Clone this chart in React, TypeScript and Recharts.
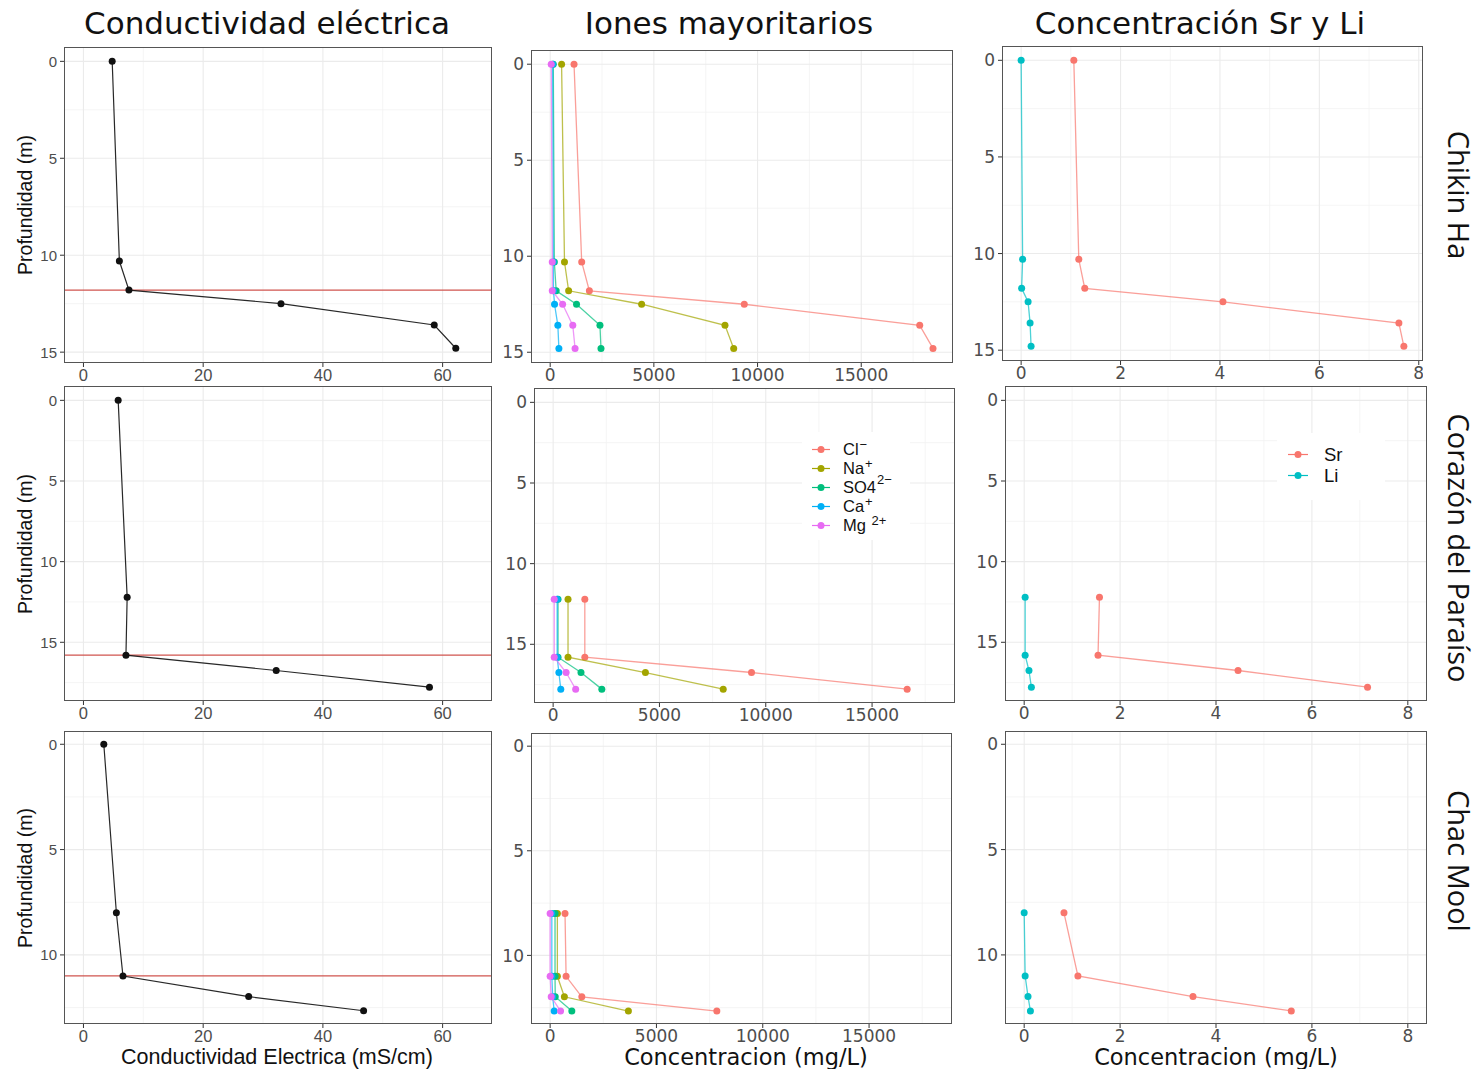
// Perfiles de profundidad: conductividad, iones mayoritarios y Sr/Li en tres cenotes
import React from 'react';
import { ScatterChart, Scatter, XAxis, YAxis, CartesianGrid, ReferenceLine } from 'recharts';

// ---------- Chikin Ha ----------
const chikinDepth = [0, 10.3, 11.8, 12.5, 13.6, 14.8];
const chikinCE = [4.8, 6.0, 7.6, 33.0, 58.6, 62.2];
const chikinCl = [1150, 1520, 1890, 9360, 17820, 18460];
const chikinNa = [550, 690, 890, 4410, 8430, 8850];
const chikinSO4 = [150, 200, 290, 1270, 2400, 2450];
const chikinCa = [120, 150, 160, 210, 370, 420];
const chikinMg = [50, 100, 100, 600, 1090, 1200];
const chikinSr = [1.06, 1.16, 1.28, 4.06, 7.6, 7.7];
const chikinLi = [0, 0.03, 0.01, 0.14, 0.18, 0.2];
const chikinInterface = 11.8;

// ---------- Corazón del Paraíso ----------
const corazonCEDepth = [0, 12.2, 15.8, 16.75, 17.78];
const corazonCE = [5.8, 7.3, 7.1, 32.2, 57.8];
const corazonDepth = [12.2, 15.8, 16.75, 17.78];
const corazonCl = [1490, 1490, 9330, 16650];
const corazonNa = [700, 700, 4340, 8000];
const corazonSO4 = [230, 230, 1310, 2290];
const corazonCa = [190, 190, 270, 360];
const corazonMg = [50, 50, 610, 1060];
const corazonSr = [1.57, 1.54, 4.46, 7.16];
const corazonLi = [0.02, 0.02, 0.1, 0.15];
const corazonInterface = 15.8;

// ---------- Chac Mool ----------
const chacCEDepth = [0, 8.0, 11.0, 11.98, 12.65];
const chacCE = [3.4, 5.5, 6.6, 27.6, 46.8];
const chacDepth = [8.0, 11.0, 11.98, 12.66];
const chacCl = [700, 750, 1490, 7840];
const chacNa = [340, 340, 670, 3680];
const chacSO4 = [230, 230, 240, 1020];
const chacCa = [80, 80, 120, 190];
const chacMg = [0, 0, 50, 490];
const chacSr = [0.83, 1.12, 3.52, 5.57];
const chacLi = [0, 0.02, 0.08, 0.13];
const chacInterface = 11.0;

// ---------- labels ----------
const sites = ['Chikin Ha', 'Corazón del Paraíso', 'Chac Mool'];
const columnTitles = ['Conductividad eléctrica', 'Iones mayoritarios', 'Concentración Sr y Li'];
const ionNames = ['Cl', 'Na', 'SO4', 'Ca', 'Mg\u00A0'];
const ionCharges = ['−', '+', '2−', '+', '2+'];
const ionColors = ['#F8766D', '#A3A500', '#00BF7D', '#00B0F6', '#E76BF3'];
const traceNames = ['Sr', 'Li'];
const traceColors = ['#F8766D', '#00BFC4'];

const ceTicks = [0, 20, 40, 60];
const ceMinor = [10, 30, 50];
const ionTicks = [0, 5000, 10000, 15000];
const ionMinor = [2500, 7500, 12500, 17500];
const traceTicks = [0, 2, 4, 6, 8];
const traceMinor = [1, 3, 5, 7];
const depthTicks = [[0, 5, 10, 15], [0, 5, 10, 15], [0, 5, 10]];
const depthMinor = [[2.5, 7.5, 12.5], [2.5, 7.5, 12.5, 17.5], [2.5, 7.5, 12.5]];

// ---------- layout ----------
const YW = 50;
const XH = 30;
const boxes = [
  [[64, 47, 492, 363], [531, 50, 953, 363], [1002, 46, 1423, 361]],
  [[64, 386, 492, 701], [534, 388, 955, 703], [1005, 386, 1427, 701]],
  [[64, 731, 492, 1024], [531, 733, 952, 1024], [1005, 731, 1427, 1024]],
];
const yDomains = [[-0.74, 15.56], [-0.89, 18.64], [-0.63, 13.28]];
const xDomains = [
  [[-3.25, 68.25], [-925, 19425], [-0.385, 8.085]],
  [[-3.25, 68.25], [-900, 18900], [-0.4, 8.4]],
  [[-3.25, 68.25], [-900, 18900], [-0.4, 8.4]],
];

type Series = { name: string; color: string; depth: number[]; values: number[] };

const rowsData = [
  {
    ce: { depth: chikinDepth, values: chikinCE },
    ions: [chikinCl, chikinNa, chikinSO4, chikinCa, chikinMg].map((v) => ({ depth: chikinDepth, values: v })),
    trace: [chikinSr, chikinLi].map((v) => ({ depth: chikinDepth, values: v })),
    iface: chikinInterface,
  },
  {
    ce: { depth: corazonCEDepth, values: corazonCE },
    ions: [corazonCl, corazonNa, corazonSO4, corazonCa, corazonMg].map((v) => ({ depth: corazonDepth, values: v })),
    trace: [corazonSr, corazonLi].map((v) => ({ depth: corazonDepth, values: v })),
    iface: corazonInterface,
  },
  {
    ce: { depth: chacCEDepth, values: chacCE },
    ions: [chacCl, chacNa, chacSO4, chacCa, chacMg].map((v) => ({ depth: chacDepth, values: v })),
    trace: [chacSr, chacLi].map((v) => ({ depth: chacDepth, values: v })),
    iface: chacInterface,
  },
];

const makeYTick = (font: string, size: number) => (props: any) => {
  const { x, y, payload } = props;
  return (
    <g>
      <line x1={x + 2} x2={x + 6} y1={y} y2={y} stroke="#333" strokeWidth={1} />
      <text x={x - 1} y={y} dy="0.36em" textAnchor="end" fontFamily={font} fontSize={size} fill="#4D4D4D">
        {payload.value}
      </text>
    </g>
  );
};

const makeXTick = (font: string, size: number) => (props: any) => {
  const { x, y, payload } = props;
  return (
    <g>
      <line x1={x} x2={x} y1={y - 6} y2={y - 2} stroke="#333" strokeWidth={1} />
      <text x={x} y={y} dy="0.7em" textAnchor="middle" fontFamily={font} fontSize={size} fill="#4D4D4D">
        {payload.value}
      </text>
    </g>
  );
};

interface PanelProps {
  box: number[];
  xDomain: number[];
  yDomain: number[];
  xTicks: number[];
  xMinor: number[];
  yTicks: number[];
  yMinor: number[];
  series: Series[];
  iface?: number;
  font: string;
  xSize: number;
  ySize: number;
  lineWidth: number;
  lineOpacity: number;
}

function Panel(p: PanelProps) {
  const [l, t, r, b] = p.box;
  const pw = r - l;
  const ph = b - t;
  const YTick = makeYTick(p.font, p.ySize);
  const XTick = makeXTick(p.font, p.xSize);
  return (
    <>
      <div style={{ position: 'absolute', left: l - YW, top: t }}>
        <ScatterChart width={pw + YW} height={ph + XH} margin={{ top: 0, right: 0, bottom: 0, left: 0 }}>
          <CartesianGrid horizontalValues={p.yMinor} verticalValues={p.xMinor} stroke="#F2F2F2" strokeWidth={0.8} />
          <CartesianGrid horizontalValues={p.yTicks} verticalValues={p.xTicks} stroke="#EBEBEB" strokeWidth={1.1} />
          <XAxis
            type="number"
            dataKey="x"
            domain={p.xDomain}
            allowDataOverflow
            ticks={p.xTicks}
            interval={0}
            height={XH}
            axisLine={false}
            tickLine={false}
            tickSize={4}
            tickMargin={2}
            tick={XTick}
          />
          <YAxis
            type="number"
            dataKey="y"
            domain={p.yDomain}
            allowDataOverflow
            reversed
            ticks={p.yTicks}
            interval={0}
            width={YW}
            axisLine={false}
            tickLine={false}
            tickSize={4}
            tickMargin={2}
            tick={YTick}
          />
          {p.iface !== undefined && <ReferenceLine y={p.iface} stroke="#D0554F" strokeWidth={1.2} />}
          {p.series.map((s) => (
            <Scatter
              key={s.name}
              name={s.name}
              data={s.depth.map((d, i) => ({ x: s.values[i], y: d }))}
              isAnimationActive={false}
              line={{ stroke: s.color, strokeWidth: p.lineWidth, strokeOpacity: p.lineOpacity }}
              shape={(sp: any) => <circle cx={sp.cx} cy={sp.cy} r={3.5} fill={s.color} />}
            />
          ))}
        </ScatterChart>
      </div>
      <div
        style={{
          position: 'absolute',
          left: l,
          top: t,
          width: pw,
          height: ph,
          border: '1.3px solid #555',
          boxSizing: 'border-box',
          pointerEvents: 'none',
        }}
      />
    </>
  );
}

const rowCenters = [205, 544, 878];

export default function App() {
  return (
    <div style={{ position: 'absolute', left: 0, top: 0, width: 1481, height: 1069, background: '#fff', overflow: 'hidden' }}>
      {/* column titles */}
      {columnTitles.map((title, i) => (
        <div
          key={title}
          style={{
            position: 'absolute',
            left: [267, 729, 1200][i] - 250,
            top: 5,
            width: 500,
            textAlign: 'center',
            fontFamily: 'DejaVu Sans',
            fontSize: 31,
            lineHeight: '36px',
            color: '#111',
          }}
        >
          {title}
        </div>
      ))}

      {/* strip labels */}
      {sites.map((s, i) => (
        <div
          key={s}
          style={{
            position: 'absolute',
            left: 1459 - 200,
            top: [195, 548, 861][i] - 20,
            width: 400,
            height: 40,
            lineHeight: '40px',
            textAlign: 'center',
            fontFamily: 'Open Sans',
            fontSize: 29,
            color: '#111',
            transform: 'rotate(90deg)',
          }}
        >
          {s}
        </div>
      ))}

      {/* y axis titles */}
      {rowCenters.map((c, i) => (
        <div
          key={i}
          style={{
            position: 'absolute',
            left: 25 - 120,
            top: c - 12,
            width: 240,
            height: 24,
            lineHeight: '24px',
            textAlign: 'center',
            fontFamily: 'Liberation Sans',
            fontSize: 19.5,
            color: '#111',
            transform: 'rotate(-90deg)',
          }}
        >
          Profundidad (m)
        </div>
      ))}

      {rowsData.map((row, ri) => (
        <React.Fragment key={ri}>
          <Panel
            box={boxes[ri][0]}
            xDomain={xDomains[ri][0]}
            yDomain={yDomains[ri]}
            xTicks={ceTicks}
            xMinor={ceMinor}
            yTicks={depthTicks[ri]}
            yMinor={depthMinor[ri]}
            series={[{ name: 'CE', color: '#111', depth: row.ce.depth, values: row.ce.values }]}
            iface={row.iface}
            font="Liberation Sans"
            xSize={16.5}
            ySize={15}
            lineWidth={1.2}
            lineOpacity={0.9}
          />
          <Panel
            box={boxes[ri][1]}
            xDomain={xDomains[ri][1]}
            yDomain={yDomains[ri]}
            xTicks={ionTicks}
            xMinor={ionMinor}
            yTicks={depthTicks[ri]}
            yMinor={depthMinor[ri]}
            series={row.ions.map((s, i) => ({ name: ionNames[i], color: ionColors[i], ...s }))}
            font="DejaVu Sans"
            xSize={17}
            ySize={17}
            lineWidth={1.3}
            lineOpacity={0.7}
          />
          <Panel
            box={boxes[ri][2]}
            xDomain={xDomains[ri][2]}
            yDomain={yDomains[ri]}
            xTicks={traceTicks}
            xMinor={traceMinor}
            yTicks={depthTicks[ri]}
            yMinor={depthMinor[ri]}
            series={row.trace.map((s, i) => ({ name: traceNames[i], color: traceColors[i], ...s }))}
            font="DejaVu Sans"
            xSize={17}
            ySize={17}
            lineWidth={1.3}
            lineOpacity={0.7}
          />
        </React.Fragment>
      ))}

      {/* ions legend */}
      <div style={{ position: 'absolute', left: 802, top: 432, width: 108, height: 108, background: '#fff' }}>
        {ionNames.map((n, i) => (
          <div
            key={n}
            style={{ position: 'absolute', left: 0, top: 8 + i * 19, height: 19, display: 'flex', alignItems: 'center', whiteSpace: 'nowrap' }}
          >
            <svg width={41} height={19}>
              <line x1={10} x2={28} y1={9.5} y2={9.5} stroke={ionColors[i]} strokeWidth={1.2} />
              <circle cx={19} cy={9.5} r={3.5} fill={ionColors[i]} />
            </svg>
            <span style={{ fontFamily: 'Liberation Sans', fontSize: 16.5, color: '#111', lineHeight: '19px' }}>
              {n}
              <span style={{ position: 'relative', top: i === 2 ? -9 : -6, fontSize: 13, marginLeft: 1 }}>{ionCharges[i]}</span>
            </span>
          </div>
        ))}
      </div>

      {/* Sr / Li legend */}
      <div style={{ position: 'absolute', left: 1277, top: 433, width: 108, height: 67, background: '#fff' }}>
        {traceNames.map((n, i) => (
          <div
            key={n}
            style={{ position: 'absolute', left: 0, top: 11 + i * 21, height: 21, display: 'flex', alignItems: 'center' }}
          >
            <svg width={47} height={21}>
              <line x1={11} x2={31} y1={10.5} y2={10.5} stroke={traceColors[i]} strokeWidth={1.2} />
              <circle cx={21} cy={10.5} r={3.5} fill={traceColors[i]} />
            </svg>
            <span style={{ fontFamily: 'Liberation Sans', fontSize: 18.5, color: '#111' }}>{n}</span>
          </div>
        ))}
      </div>

      {/* x axis titles */}
      <div
        style={{
          position: 'absolute',
          left: 277 - 200,
          top: 1046,
          width: 400,
          textAlign: 'center',
          fontFamily: 'Liberation Sans',
          fontSize: 21.5,
          lineHeight: '22px',
          color: '#111',
        }}
      >
        Conductividad Electrica (mS/cm)
      </div>
      {[746, 1216].map((c) => (
        <div
          key={c}
          style={{
            position: 'absolute',
            left: c - 200,
            top: 1046,
            width: 400,
            textAlign: 'center',
            fontFamily: 'DejaVu Sans',
            fontSize: 22.5,
            lineHeight: '22px',
            color: '#111',
          }}
        >
          Concentracion (mg/L)
        </div>
      ))}
    </div>
  );
}
